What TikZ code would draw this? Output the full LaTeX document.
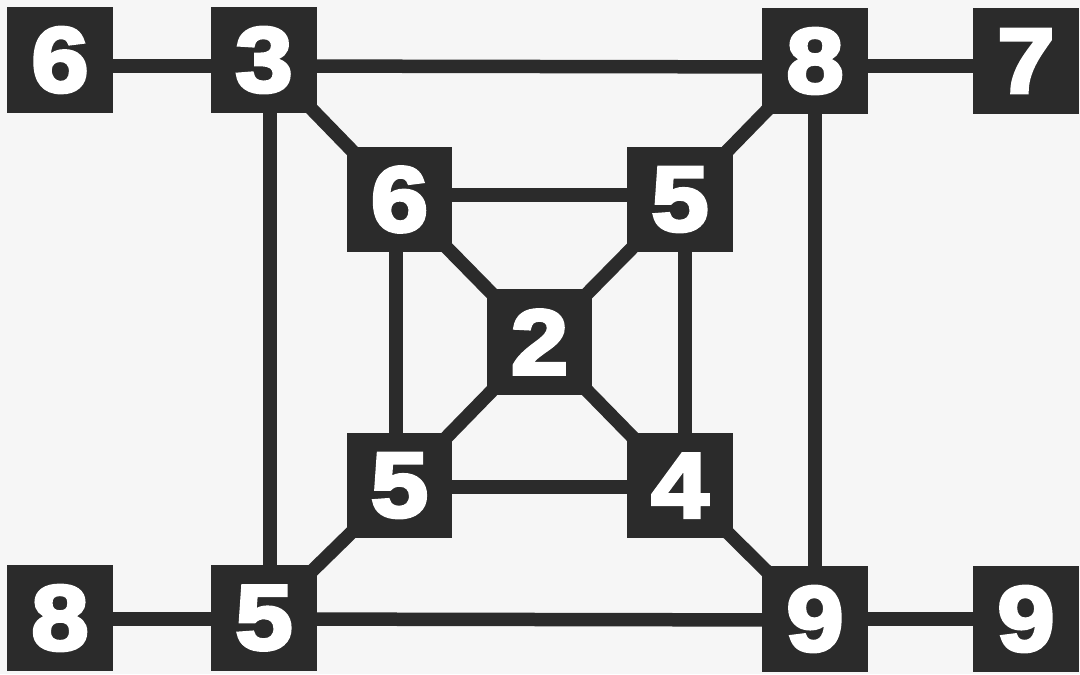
\documentclass[tikz,border=0pt]{standalone}
\usepackage{fontspec}
\newfontfamily\digitfont{Liberation Sans Bold}[FakeBold=4,FakeStretch=1.12]
\usetikzlibrary{backgrounds}
\definecolor{ink}{HTML}{2B2B2B}
\definecolor{paper}{HTML}{F6F6F6}
\tikzset{
  box/.style={fill=ink, draw=none, minimum width=52.75pt, minimum height=52.75pt,
    inner sep=0pt, text=white, font=\digitfont\fontsize{46}{46}\selectfont},
  conn/.style={draw=ink, line width=6.75pt},
}
\begin{document}
\begin{tikzpicture}[x=0.5pt,y=-0.5pt]
\begin{scope}[on background layer]
  \fill[paper] (0,0) rectangle (1080,674);
\end{scope}
\useasboundingbox (0,0) rectangle (1080,674);
% outer row top
\node[box] (a6) at (60,60) {6};
\node[box] (b3) at (264,60) {3};
\node[box] (c8) at (815,61) {8};
\node[box] (d7) at (1026,61) {7};
% inner square
\node[box] (e6) at (399.5,199.5) {6};
\node[box] (f5) at (680,199.5) {5};
\node[box] (g2) at (539.5,342) {2};
\node[box] (h5) at (399.5,485.5) {5};
\node[box] (i4) at (680,485.5) {4};
% outer row bottom
\node[box] (j8) at (60,618) {8};
\node[box] (k5) at (264,618) {5};
\node[box] (l9) at (815,619) {9};
\node[box] (m9) at (1026,619) {9};
\begin{scope}[on background layer]
  % horizontals
  \draw[conn] ([yshift=-3pt]a6.center) -- ([yshift=-3pt]b3.center);
  \draw[conn] ([yshift=-3pt]b3.center) -- ([yshift=-3pt]c8.center);
  \draw[conn] ([yshift=-2.5pt]c8.center) -- ([yshift=-2.5pt]d7.center);
  \draw[conn] ([yshift=2.25pt]e6.center) -- ([yshift=2.25pt]f5.center);
  \draw[conn] ([yshift=-0.75pt]h5.center) -- ([yshift=-0.75pt]i4.center);
  \draw[conn] ([yshift=-0.5pt]j8.center) -- ([yshift=-0.5pt]k5.center);
  \draw[conn] ([yshift=-0.5pt]k5.center) -- ([yshift=-0.5pt]l9.center);
  \draw[conn] (l9.center) -- (m9.center);
  % verticals
  \draw[conn] ([xshift=3pt]b3.center) -- ([xshift=3pt]k5.center);
  \draw[conn] (c8.center) -- (l9.center);
  \draw[conn] ([xshift=-1.75pt]e6.center) -- ([xshift=-1.75pt]h5.center);
  \draw[conn] ([xshift=2.5pt]f5.center) -- ([xshift=2.5pt]i4.center);
  % diagonals (centre to centre, passing through the facing corners)
  \draw[conn] (b3.center) -- (e6.center);
  \draw[conn] (c8.center) -- (f5.center);
  \draw[conn] (e6.center) -- (g2.center);
  \draw[conn] (f5.center) -- (g2.center);
  \draw[conn] (g2.center) -- (h5.center);
  \draw[conn] (g2.center) -- (i4.center);
  \draw[conn] (h5.center) -- (k5.center);
  \draw[conn] (i4.center) -- (l9.center);
\end{scope}
\end{tikzpicture}
\end{document}
